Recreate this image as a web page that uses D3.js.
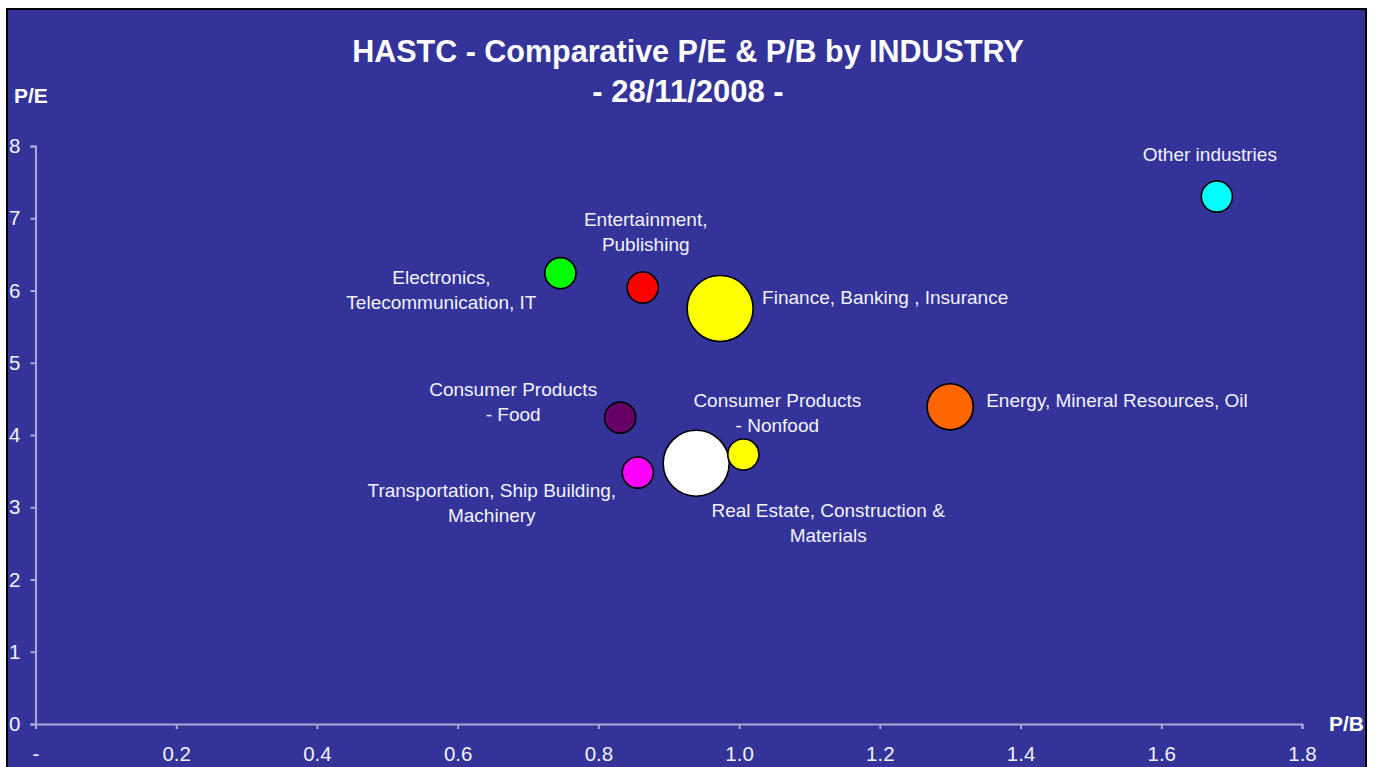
<!DOCTYPE html>
<html>
<head>
<meta charset="utf-8">
<script src="https://cdn.jsdelivr.net/npm/d3@7"></script>
<style>
  body { margin: 0; background: #ffffff; }
  svg { display: block; font-family: "Liberation Sans", Arial, sans-serif; }
</style>
</head>
<body>
<svg id="chart" width="1376" height="767"></svg>
<script>
// chart values
var industries = [
  'Other industries',
  'Electronics, Telecommunication, IT',
  'Entertainment, Publishing',
  'Finance, Banking , Insurance',
  'Energy, Mineral Resources, Oil',
  'Consumer Products - Food',
  'Consumer Products - Nonfood',
  'Real Estate, Construction & Materials',
  'Transportation, Ship Building, Machinery'
];
var pbValues = [1.679, 0.746, 0.863, 0.973, 1.300, 0.831, 1.006, 0.939, 0.856];
var peValues = [7.30, 6.24, 6.04, 5.75, 4.39, 4.24, 3.73, 3.61, 3.48];
var sizeValues = [1.0, 1.0, 1.0, 4.5, 2.2, 1.0, 1.0, 4.5, 1.0];
var bubbleColors = ['#00ffff', '#00ff00', '#ff0000', '#ffff00', '#ff6600', '#660066', '#ffff00', '#ffffff', '#ff00ff'];
var xTicks = [0, 0.2, 0.4, 0.6, 0.8, 1.0, 1.2, 1.4, 1.6, 1.8];
var yTicks = [0, 1, 2, 3, 4, 5, 6, 7, 8];

// label text lines and where they sit relative to their bubble
var labelLines = [
  ['Other industries'],
  ['Electronics,', 'Telecommunication, IT'],
  ['Entertainment,', 'Publishing'],
  ['Finance, Banking , Insurance'],
  ['Energy, Mineral Resources, Oil'],
  ['Consumer Products', '- Food'],
  ['Consumer Products', '- Nonfood'],
  ['Real Estate, Construction &', 'Materials'],
  ['Transportation, Ship Building,', 'Machinery']
];
var labelLayout = [
  {dx: -7, dy: -42, anchor: 'middle'},
  {dx: -119, dy: 4, anchor: 'middle'},
  {dx: 3, dy: -68, anchor: 'middle'},
  {dx: 42, dy: -11, anchor: 'start'},
  {dx: 36, dy: -6, anchor: 'start'},
  {dx: -107, dy: -28, anchor: 'middle'},
  {dx: 34, dy: -54, anchor: 'middle'},
  {dx: 132, dy: 47, anchor: 'middle'},
  {dx: -146, dy: 18, anchor: 'middle'}
];

var svg = d3.select('#chart');

// plot background with black frame
svg.append('rect')
  .attr('x', 7).attr('y', 9)
  .attr('width', 1359).attr('height', 770)
  .attr('fill', '#333399')
  .attr('stroke', '#000')
  .attr('stroke-width', 2);

var x = d3.scaleLinear().domain([0, 1.8]).range([35.5, 1302]);
var y = d3.scaleLinear().domain([0, 8]).range([724, 146]);
var r = d3.scaleSqrt().domain([0, 4.5]).range([0, 33]);

var axisColor = '#a9a9d8';
var tickTextColor = '#f2f2fa';

var xAxis = d3.axisBottom(x)
  .tickValues(xTicks)
  .tickSizeOuter(0)
  .tickSize(5)
  .tickPadding(17)
  .tickFormat(function(d) { return d === 0 ? '-' : d3.format('.1f')(d); });

var yAxis = d3.axisLeft(y)
  .tickValues(yTicks)
  .tickSizeOuter(0)
  .tickSize(5)
  .tickPadding(10)
  .tickFormat(d3.format('d'));

var gx = svg.append('g').attr('transform', 'translate(0,' + y(0) + ')').call(xAxis);
var gy = svg.append('g').attr('transform', 'translate(' + x(0) + ',0)').call(yAxis);

[gx, gy].forEach(function(g) {
  g.select('.domain').attr('stroke', axisColor).attr('stroke-width', 2);
  g.selectAll('.tick line').attr('stroke', axisColor).attr('stroke-width', 2);
  g.selectAll('.tick text')
    .attr('fill', tickTextColor)
    .style('font-size', '20.5px')
    .style('font-family', '"Liberation Sans", Arial, sans-serif');
});
gy.selectAll('.tick text').attr('text-anchor', 'end');

// bubbles, biggest first
var idx = d3.range(industries.length).sort(function(a, b) { return sizeValues[b] - sizeValues[a]; });

svg.append('g').selectAll('circle')
  .data(idx)
  .enter()
  .append('circle')
  .attr('cx', function(i) { return x(pbValues[i]); })
  .attr('cy', function(i) { return y(peValues[i]); })
  .attr('r', function(i) { return r(sizeValues[i]); })
  .attr('fill', function(i) { return bubbleColors[i]; })
  .attr('stroke', '#000')
  .attr('stroke-width', 1.6);

// data labels
var labels = svg.append('g').selectAll('text')
  .data(d3.range(industries.length))
  .enter()
  .append('text')
  .attr('x', function(i) { return x(pbValues[i]) + labelLayout[i].dx; })
  .attr('y', function(i) { return y(peValues[i]) + labelLayout[i].dy; })
  .attr('text-anchor', function(i) { return labelLayout[i].anchor; })
  .attr('fill', tickTextColor)
  .style('font-size', '19px');

labels.each(function(i) {
  var t = d3.select(this);
  labelLines[i].forEach(function(line, k) {
    t.append('tspan')
      .attr('x', x(pbValues[i]) + labelLayout[i].dx)
      .attr('y', y(peValues[i]) + labelLayout[i].dy + k * 25)
      .attr('dy', '0.35em')
      .text(line);
  });
});

// titles
svg.append('text')
  .attr('x', 688).attr('y', 62)
  .attr('text-anchor', 'middle')
  .attr('fill', '#fff')
  .style('font-size', '30.5px').style('font-weight', 'bold')
  .text('HASTC - Comparative P/E & P/B by INDUSTRY');

svg.append('text')
  .attr('x', 688).attr('y', 102)
  .attr('text-anchor', 'middle')
  .attr('fill', '#fff')
  .style('font-size', '31px').style('font-weight', 'bold')
  .text('- 28/11/2008 -');

svg.append('text')
  .attr('x', 14).attr('y', 103)
  .attr('fill', '#fff')
  .style('font-size', '21px').style('font-weight', 'bold')
  .text('P/E');

svg.append('text')
  .attr('x', 1329).attr('y', 731)
  .attr('fill', '#fff')
  .style('font-size', '21px').style('font-weight', 'bold')
  .text('P/B');
</script>
</body>
</html>
